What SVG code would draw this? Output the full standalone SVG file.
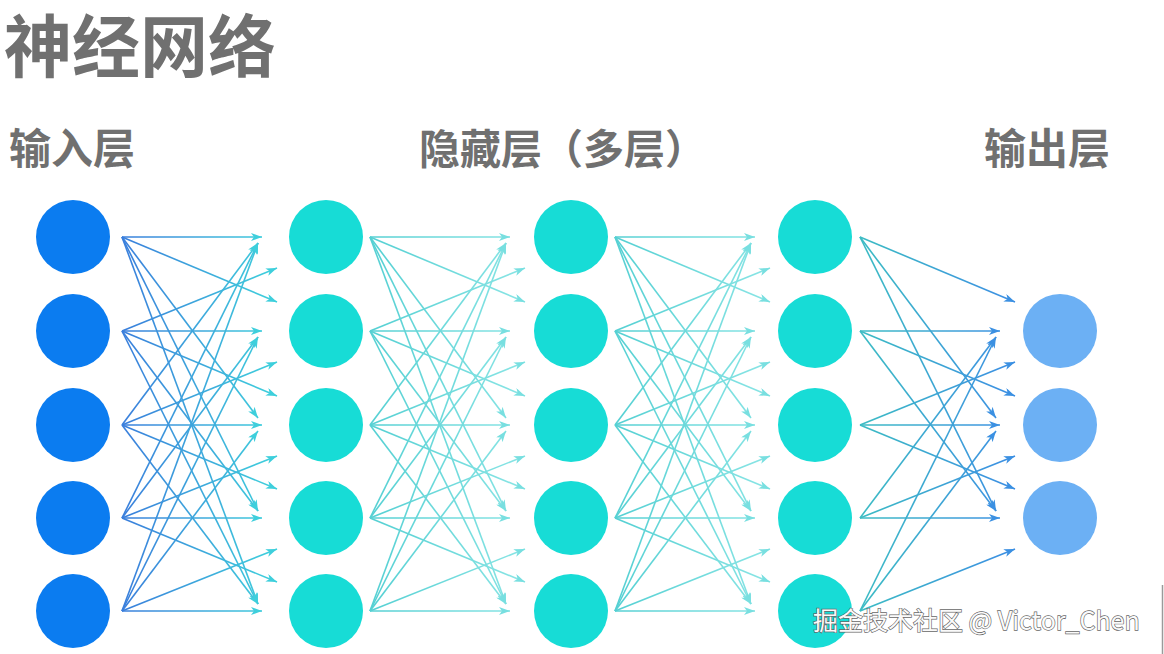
<svg xmlns="http://www.w3.org/2000/svg" width="1164" height="654" viewBox="0 0 1164 654">
<style>
.ttl{font-family:"Noto Sans CJK SC","Noto Sans",sans-serif;font-weight:700;fill:#707070}
.big{font-family:"Liberation Sans","Noto Sans CJK SC",sans-serif}
.in{fill:#0b7cf0}
.hid{fill:#17dcd6}
.out{fill:#6cb0f4}
.c1 path{stroke:url(#g1);marker-end:url(#a1)}
.c2 path{stroke:url(#g2);marker-end:url(#a2)}
.c3 path{stroke:url(#g3);marker-end:url(#a2)}
.c4 path{stroke:url(#g4);marker-end:url(#a4)}
.cn path{fill:none;stroke-width:1.6}
.wm{font-family:"Noto Sans CJK SC","Noto Sans",sans-serif;font-size:25px;fill:#fafafa;stroke:#666;stroke-width:1.3px;paint-order:stroke}
</style>
<defs>
<linearGradient id="g1" gradientUnits="userSpaceOnUse" x1="122" y1="0" x2="277" y2="0"><stop offset="0" stop-color="#3a7edc"/><stop offset="1" stop-color="#3fd2dc"/></linearGradient>
<linearGradient id="g2" gradientUnits="userSpaceOnUse" x1="370" y1="0" x2="525" y2="0"><stop offset="0" stop-color="#55d0d3"/><stop offset="1" stop-color="#8ae5e5"/></linearGradient>
<linearGradient id="g3" gradientUnits="userSpaceOnUse" x1="615" y1="0" x2="770" y2="0"><stop offset="0" stop-color="#55d0d3"/><stop offset="1" stop-color="#8ae5e5"/></linearGradient>
<linearGradient id="g4" gradientUnits="userSpaceOnUse" x1="860" y1="0" x2="1015" y2="0"><stop offset="0" stop-color="#3cbcc4"/><stop offset="1" stop-color="#3d8ee4"/></linearGradient>
<marker id="a1" markerUnits="userSpaceOnUse" markerWidth="12" markerHeight="8" refX="11" refY="4" orient="auto"><path d="M0,0 L11,4 L0,8 L3,4 z" fill="#3ecfdc"/></marker>
<marker id="a2" markerUnits="userSpaceOnUse" markerWidth="12" markerHeight="8" refX="11" refY="4" orient="auto"><path d="M0,0 L11,4 L0,8 L3,4 z" fill="#78dfe0"/></marker>
<marker id="a4" markerUnits="userSpaceOnUse" markerWidth="12" markerHeight="8" refX="11" refY="4" orient="auto"><path d="M0,0 L11,4 L0,8 L3,4 z" fill="#3b90e2"/></marker>
</defs>
<rect width="1164" height="654" fill="#ffffff"/>
<line x1="1162.5" y1="585" x2="1162.5" y2="654" stroke="#9a9a9a" stroke-width="1.5"/>

<text class="ttl big" x="4" y="72" font-size="68">神经网络</text>
<text class="ttl" x="9" y="164" font-size="42">输入层</text>
<text class="ttl" x="419" y="164" font-size="41">隐藏层（多层）</text>
<text class="ttl" x="984" y="164" font-size="42">输出层</text>

<g id="connectors" class="cn">
<g class="c1">
<path d="M122,237 L262,237"/><path d="M122,237 L277,302"/><path d="M122,237 L258,418"/><path d="M122,237 L258,511"/><path d="M122,237 L258,604"/>
<path d="M122,331 L277,268"/><path d="M122,331 L262,331"/><path d="M122,331 L277,396"/><path d="M122,331 L258,511"/><path d="M122,331 L258,604"/>
<path d="M122,425 L258,243"/><path d="M122,425 L277,362"/><path d="M122,425 L262,425"/><path d="M122,425 L277,489"/><path d="M122,425 L258,604"/>
<path d="M122,518 L258,243"/><path d="M122,518 L258,337"/><path d="M122,518 L277,456"/><path d="M122,518 L262,518"/><path d="M122,518 L277,582"/>
<path d="M122,611 L258,243"/><path d="M122,611 L258,337"/><path d="M122,611 L258,431"/><path d="M122,611 L277,549"/><path d="M122,611 L262,611"/>
</g>
<g class="c2">
<path d="M370,237 L510,237"/><path d="M370,237 L525,302"/><path d="M370,237 L506,418"/><path d="M370,237 L506,511"/><path d="M370,237 L506,604"/>
<path d="M370,331 L525,268"/><path d="M370,331 L510,331"/><path d="M370,331 L525,396"/><path d="M370,331 L506,511"/><path d="M370,331 L506,604"/>
<path d="M370,425 L506,243"/><path d="M370,425 L525,362"/><path d="M370,425 L510,425"/><path d="M370,425 L525,489"/><path d="M370,425 L506,604"/>
<path d="M370,518 L506,243"/><path d="M370,518 L506,337"/><path d="M370,518 L525,456"/><path d="M370,518 L510,518"/><path d="M370,518 L525,582"/>
<path d="M370,611 L506,243"/><path d="M370,611 L506,337"/><path d="M370,611 L506,431"/><path d="M370,611 L525,549"/><path d="M370,611 L510,611"/>
</g>
<g class="c3">
<path d="M615,237 L755,237"/><path d="M615,237 L770,302"/><path d="M615,237 L751,418"/><path d="M615,237 L751,511"/><path d="M615,237 L751,604"/>
<path d="M615,331 L770,268"/><path d="M615,331 L755,331"/><path d="M615,331 L770,396"/><path d="M615,331 L751,511"/><path d="M615,331 L751,604"/>
<path d="M615,425 L751,243"/><path d="M615,425 L770,362"/><path d="M615,425 L755,425"/><path d="M615,425 L770,489"/><path d="M615,425 L751,604"/>
<path d="M615,518 L751,243"/><path d="M615,518 L751,337"/><path d="M615,518 L770,456"/><path d="M615,518 L755,518"/><path d="M615,518 L770,582"/>
<path d="M615,611 L751,243"/><path d="M615,611 L751,337"/><path d="M615,611 L751,431"/><path d="M615,611 L770,549"/><path d="M615,611 L755,611"/>
</g>
<g class="c4">
<path d="M860,237 L1015,302"/><path d="M860,237 L996,418"/><path d="M860,237 L996,511"/>
<path d="M860,331 L1000,331"/><path d="M860,331 L1015,396"/><path d="M860,331 L996,511"/>
<path d="M860,425 L1015,362"/><path d="M860,425 L1000,425"/><path d="M860,425 L1015,489"/>
<path d="M860,518 L996,337"/><path d="M860,518 L1015,456"/><path d="M860,518 L1000,518"/>
<path d="M860,611 L996,337"/><path d="M860,611 L996,431"/><path d="M860,611 L1015,549"/>
</g>
</g>

<g id="input-1"><circle class="in" cx="73" cy="237" r="37"/></g>
<g id="input-2"><circle class="in" cx="73" cy="331" r="37"/></g>
<g id="input-3"><circle class="in" cx="73" cy="425" r="37"/></g>
<g id="input-4"><circle class="in" cx="73" cy="518" r="37"/></g>
<g id="input-5"><circle class="in" cx="73" cy="611" r="37"/></g>

<g id="hidden1-1"><circle class="hid" cx="326" cy="237" r="37"/></g>
<g id="hidden1-2"><circle class="hid" cx="326" cy="331" r="37"/></g>
<g id="hidden1-3"><circle class="hid" cx="326" cy="425" r="37"/></g>
<g id="hidden1-4"><circle class="hid" cx="326" cy="518" r="37"/></g>
<g id="hidden1-5"><circle class="hid" cx="326" cy="611" r="37"/></g>

<g id="hidden2-1"><circle class="hid" cx="571" cy="237" r="37"/></g>
<g id="hidden2-2"><circle class="hid" cx="571" cy="331" r="37"/></g>
<g id="hidden2-3"><circle class="hid" cx="571" cy="425" r="37"/></g>
<g id="hidden2-4"><circle class="hid" cx="571" cy="518" r="37"/></g>
<g id="hidden2-5"><circle class="hid" cx="571" cy="611" r="37"/></g>

<g id="hidden3-1"><circle class="hid" cx="815" cy="237" r="37"/></g>
<g id="hidden3-2"><circle class="hid" cx="815" cy="331" r="37"/></g>
<g id="hidden3-3"><circle class="hid" cx="815" cy="425" r="37"/></g>
<g id="hidden3-4"><circle class="hid" cx="815" cy="518" r="37"/></g>
<g id="hidden3-5"><circle class="hid" cx="815" cy="611" r="37"/></g>

<g id="output-1"><circle class="out" cx="1060" cy="331" r="37"/></g>
<g id="output-2"><circle class="out" cx="1060" cy="425" r="37"/></g>
<g id="output-3"><circle class="out" cx="1060" cy="518" r="37"/></g>

<text class="wm" x="813" y="630">掘金技术社区 @ Victor_Chen</text>
</svg>
